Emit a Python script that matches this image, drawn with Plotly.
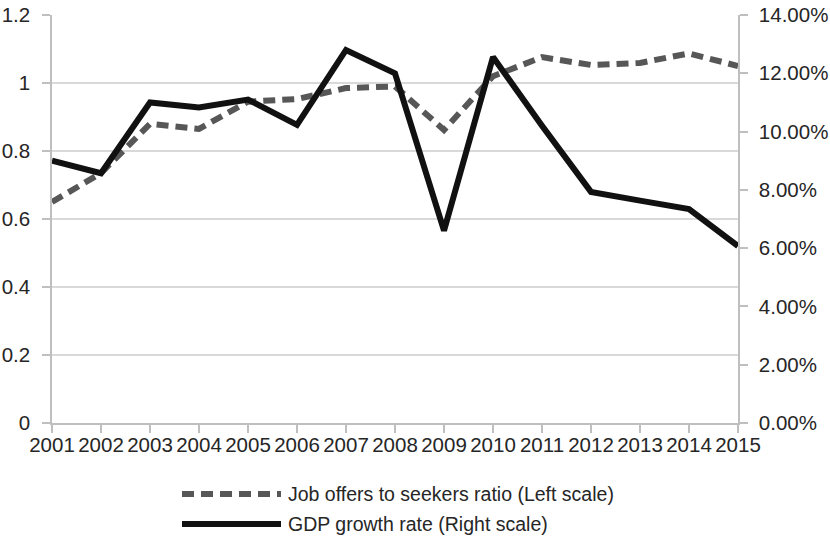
import plotly.graph_objects as go

# Annual series, 2001-2015
years = [2001, 2002, 2003, 2004, 2005, 2006, 2007, 2008,
         2009, 2010, 2011, 2012, 2013, 2014, 2015]
job_offer_ratio = [0.65, 0.735, 0.88, 0.865, 0.945, 0.953, 0.985, 0.99,
                   0.862, 1.02, 1.076, 1.053, 1.059, 1.087, 1.05]
gdp_growth_pct = [9.0, 8.57, 11.0, 10.83, 11.1, 10.23, 12.8, 12.0,
                  6.6, 12.56, 10.2, 7.93, 7.63, 7.34, 6.07]

ratio_name = "Job offers to seekers ratio (Left scale)"
gdp_name = "GDP growth rate (Right scale)"

FONT = "Liberation Sans, Arial, sans-serif"
TEXT = "#262626"
AXIS = "#bfbfbf"
GRID = "#d9d9d9"
DASH_COLOR = "#575757"
SOLID_COLOR = "#111111"
TICK_SIZE = 20.5

fig = go.Figure()
fig.add_trace(go.Scatter(
    x=years, y=job_offer_ratio, name=ratio_name, mode="lines",
    line=dict(color=DASH_COLOR, width=6, dash="12px,7px"),
    yaxis="y", showlegend=False,
))
fig.add_trace(go.Scatter(
    x=years, y=[v / 100 for v in gdp_growth_pct], name=gdp_name, mode="lines",
    line=dict(color=SOLID_COLOR, width=6),
    yaxis="y2", showlegend=False,
))

fig.update_layout(
    width=830, height=543,
    margin=dict(l=52, r=92, t=15, b=120),
    paper_bgcolor="white", plot_bgcolor="white",
    font=dict(family=FONT, size=TICK_SIZE, color=TEXT),
    xaxis=dict(
        range=[2001, 2015], tickvals=years, ticktext=[str(y) for y in years],
        tickangle=0, automargin=False,
        showgrid=False, zeroline=False, showline=True, linecolor=AXIS, linewidth=1.5,
        ticks="outside", ticklen=8, tickcolor=AXIS, tickwidth=1.5,
        tickfont=dict(size=TICK_SIZE), ticklabelstandoff=-5,
    ),
    yaxis=dict(
        range=[0, 1.2], tickvals=[0, 0.2, 0.4, 0.6, 0.8, 1.0, 1.2],
        ticktext=["0", "0.2", "0.4", "0.6", "0.8", "1", "1.2"],
        automargin=False,
        showgrid=True, gridcolor=GRID, gridwidth=1.5, zeroline=False,
        showline=True, linecolor=AXIS, linewidth=1.5,
        ticks="outside", ticklen=8, tickcolor=AXIS, tickwidth=1.5,
        ticklabelstandoff=8,
    ),
    yaxis2=dict(
        range=[0, 0.14], tickvals=[0, 0.02, 0.04, 0.06, 0.08, 0.10, 0.12, 0.14],
        tickformat=".2%", overlaying="y", side="right", automargin=False,
        showgrid=False, zeroline=False, showline=True, linecolor=AXIS, linewidth=1.5,
        ticks="outside", ticklen=8, tickcolor=AXIS, tickwidth=1.5,
        ticklabelstandoff=7,
    ),
)

# Legend drawn below the plot with long line samples
plot_left, plot_w = 52, 686
plot_bottom, plot_h = 423, 408


def px_x(x):
    return (x - plot_left) / plot_w


def px_y(y):
    return (plot_bottom - y) / plot_h


legend_rows = [
    (ratio_name, 494, dict(color=DASH_COLOR, width=6, dash="12px,7px")),
    (gdp_name, 524, dict(color=SOLID_COLOR, width=6)),
]
for label, row_y, line_style in legend_rows:
    fig.add_shape(
        type="line", xref="paper", yref="paper",
        x0=px_x(182), x1=px_x(281), y0=px_y(row_y), y1=px_y(row_y),
        line=line_style,
    )
    fig.add_annotation(
        xref="paper", yref="paper", x=px_x(286), y=px_y(row_y),
        xanchor="left", yanchor="middle", showarrow=False,
        text=label, font=dict(family=FONT, size=19.5, color=TEXT),
    )

fig.write_html("out.html")
